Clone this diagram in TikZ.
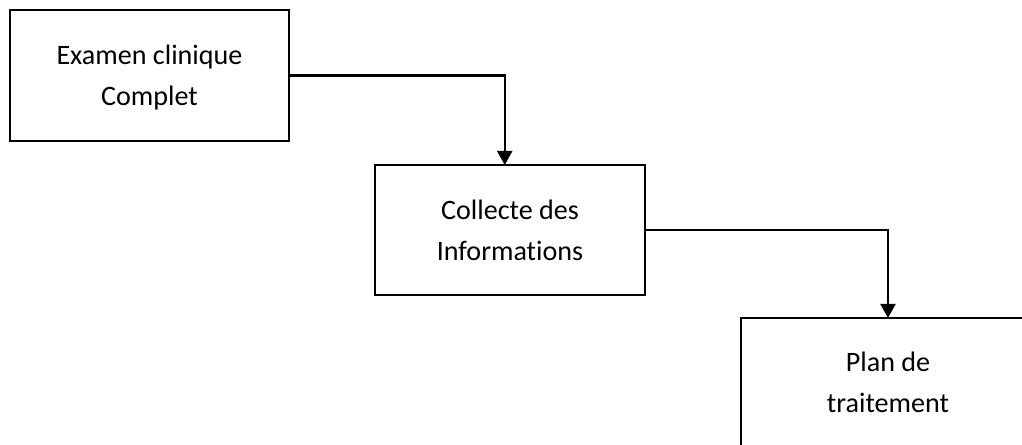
\documentclass[tikz,border=0pt]{standalone}
\usepackage{fontspec}
\setmainfont{Carlito}[Ligatures=NoCommon]
\usetikzlibrary{arrows.meta}
\begin{document}
\begin{tikzpicture}[x=0.02cm,y=-0.02cm,inner sep=0pt,outer sep=0pt,
etape/.style={draw,rectangle,line width=1.1pt,align=center,font=\fontsize{16}{23.5}\selectfont},
fleche/.style={line width=1.4pt,-{Triangle[length=8pt,width=8.5pt]}}]
\useasboundingbox (0,0) rectangle (1022,444);
\clip (0,0) rectangle (1022,444);
\draw (149.5,75.5) node[etape,minimum width=5.58cm,minimum height=2.62cm,text depth=-2pt] (examen) {Examen clinique\\Complet};
\draw (510,230) node[etape,minimum width=5.4cm,minimum height=2.6cm,text depth=-2pt] (collecte) {Collecte des\\Informations};
\draw (888,382) node[etape,minimum width=5.88cm,minimum height=2.56cm,text depth=-2pt] (plan) {Plan de\\traitement};
\draw[fleche] (examen.east) -| ([xshift=-3pt]collecte.north);
\draw[fleche] (collecte.east) -| (plan.north);
\end{tikzpicture}
\end{document}
